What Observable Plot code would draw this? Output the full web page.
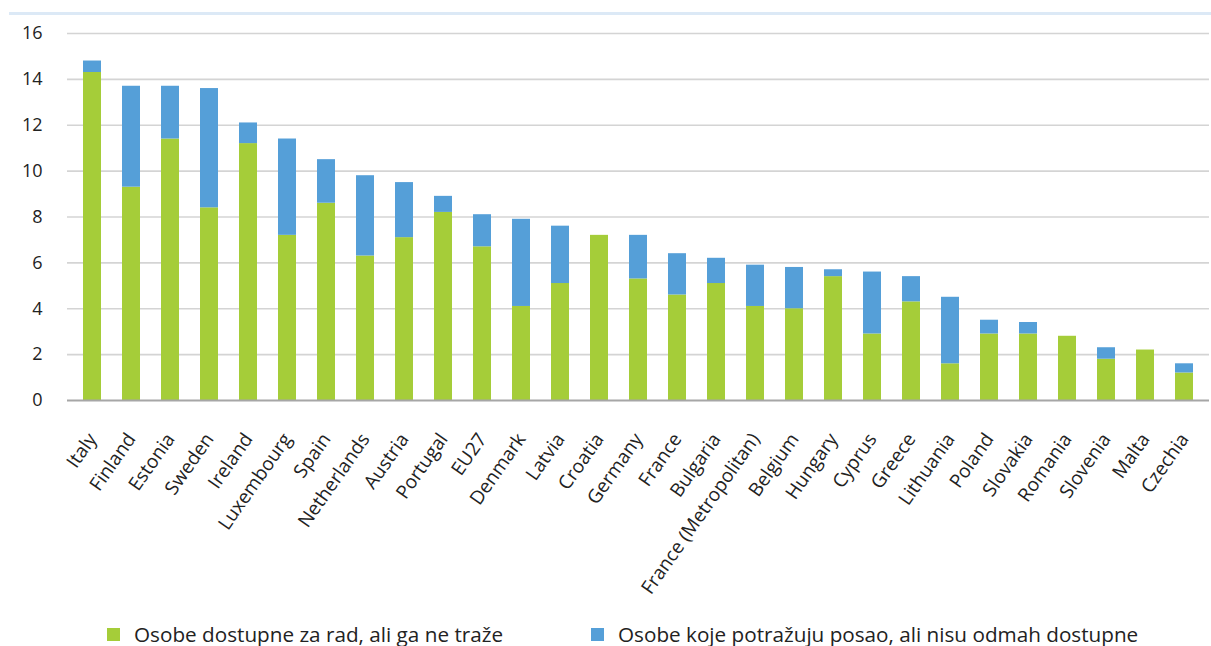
<!DOCTYPE html>
<html><head><meta charset="utf-8">
<script src="https://cdn.jsdelivr.net/npm/d3@7"></script>
<script src="https://cdn.jsdelivr.net/npm/@observablehq/plot@0.6"></script>
<style>
html,body{margin:0;padding:0;background:#fff}
body{font-family:"Open Sans",sans-serif;width:1211px;height:646px;overflow:hidden;position:relative}
#topline{position:absolute;left:9px;right:0;top:12px;height:3px;background:#dce9f6}
#chart{position:absolute;left:0;top:0}
.lg{position:absolute;top:620px;display:flex;align-items:center;font-size:20.7px;color:#222;white-space:nowrap}
.sw{width:13px;height:13px;display:inline-block;margin-right:14px}
</style></head>
<body>
<div id="topline"></div>
<div id="chart"></div>
<div id="legend"></div>
<script>
const countries = ["Italy","Finland","Estonia","Sweden","Ireland","Luxembourg","Spain","Netherlands","Austria","Portugal","EU27","Denmark","Latvia","Croatia","Germany","France","Bulgaria","France (Metropolitan)","Belgium","Hungary","Cyprus","Greece","Lithuania","Poland","Slovakia","Romania","Slovenia","Malta","Czechia"];
const availableNotSeeking = [14.3,9.3,11.4,8.4,11.2,7.2,8.6,6.3,7.1,8.2,6.7,4.1,5.1,7.2,5.3,4.6,5.1,4.1,4.0,5.4,2.9,4.3,1.6,2.9,2.9,2.8,1.8,2.2,1.2];
const seekingNotAvailable = [0.5,4.4,2.3,5.2,0.9,4.2,1.9,3.5,2.4,0.7,1.4,3.8,2.5,0.0,1.9,1.8,1.1,1.8,1.8,0.3,2.7,1.1,2.9,0.6,0.5,0.0,0.5,0.0,0.4];
const seriesNames = ["Osobe dostupne za rad, ali ga ne traže","Osobe koje potražuju posao, ali nisu odmah dostupne"];
const yTicks = [0,2,4,6,8,10,12,14,16];

const seriesColors = ["#a5cd39","#559fd8"];

const rows = [];
countries.forEach((c,i)=>{
  rows.push({country:c, series:seriesNames[0], value:availableNotSeeking[i]});
  rows.push({country:c, series:seriesNames[1], value:seekingNotAvailable[i]});
});

const chart = Plot.plot({
  width:1211, height:618,
  marginLeft:67, marginRight:2, marginTop:33, marginBottom:218,
  style:{fontFamily:'"Open Sans",sans-serif', background:"transparent"},
  x:{domain:countries, paddingInner:0.54, paddingOuter:0.27, label:null},
  y:{domain:[0,16], label:null},
  color:{domain:seriesNames, range:seriesColors},
  marks:[
    Plot.ruleY(yTicks.filter(d=>d>0), {stroke:"#d4d4d4", strokeWidth:1.6}),
    Plot.barY(rows, {x:"country", y:"value", fill:"series", z:"series", order:seriesNames}),
    Plot.ruleY([0], {stroke:"#a6a6a6", strokeWidth:2}),
    Plot.axisY({ticks:yTicks, tickSize:0, tickPadding:25, fontSize:18, color:"#222", label:null}),
    Plot.axisX({tickSize:0, tickRotate:-55, tickPadding:35, fontSize:19, color:"#222", label:null})
  ]
});
document.getElementById("chart").appendChild(chart);

const lg = document.getElementById("legend");
const lefts = [107, 591];
seriesNames.forEach((n,i)=>{
  const d = document.createElement("div");
  d.className = "lg";
  d.style.left = lefts[i]+"px";
  const s = document.createElement("span");
  s.className = "sw";
  s.style.background = seriesColors[i];
  d.appendChild(s);
  d.appendChild(document.createTextNode(n));
  lg.appendChild(d);
});
</script>
</body></html>
